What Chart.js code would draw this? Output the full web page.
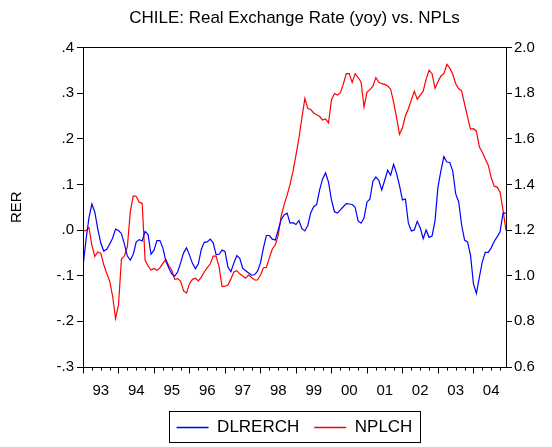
<!DOCTYPE html>
<html>
<head>
<meta charset="utf-8">
<script src="https://cdn.jsdelivr.net/npm/chart.js@4.4.1/dist/chart.umd.min.js"></script>
<style>
  html, body { margin: 0; padding: 0; background: #ffffff; }
  canvas { display: block; }
</style>
</head>
<body>
<canvas id="rerChart" width="552" height="447"></canvas>
<script>
// monthly, 1993M01 - 2004M12
const years = ["93", "94", "95", "96", "97", "98", "99", "00", "01", "02", "03", "04"];

const dlrerch = [
  -0.080, -0.022, 0.026, 0.057, 0.039, 0.002, -0.028, -0.046, -0.042, -0.031, -0.018, 0.002,
  -0.001, -0.008, -0.031, -0.057, -0.066, -0.053, -0.026, -0.021, -0.024, -0.003, -0.010, -0.053,
  -0.044, -0.023, -0.023, -0.039, -0.068, -0.083, -0.096, -0.101, -0.092, -0.072, -0.050, -0.039,
  -0.055, -0.073, -0.085, -0.074, -0.042, -0.027, -0.026, -0.020, -0.028, -0.054, -0.053, -0.044,
  -0.047, -0.081, -0.091, -0.072, -0.056, -0.062, -0.084, -0.089, -0.094, -0.099, -0.098, -0.090,
  -0.072, -0.039, -0.012, -0.012, -0.020, -0.022, 0.000, 0.023, 0.033, 0.037, 0.015, 0.016,
  0.012, 0.021, 0.003, -0.002, 0.010, 0.038, 0.051, 0.056, 0.088, 0.112, 0.125, 0.105,
  0.066, 0.040, 0.037, 0.044, 0.051, 0.058, 0.057, 0.056, 0.050, 0.020, 0.015, 0.026,
  0.061, 0.068, 0.107, 0.116, 0.109, 0.088, 0.109, 0.131, 0.120, 0.144, 0.124, 0.097,
  0.066, 0.068, 0.015, -0.002, 0.000, 0.019, 0.005, -0.019, 0.000, -0.016, -0.013, 0.020,
  0.094, 0.130, 0.161, 0.149, 0.148, 0.129, 0.079, 0.062, 0.011, -0.022, -0.026, -0.055,
  -0.118, -0.139, -0.103, -0.069, -0.049, -0.049, -0.039, -0.025, -0.015, -0.004, 0.037, 0.037
];

const nplch = [
  1.197, 1.197, 1.211, 1.134, 1.084, 1.104, 1.099, 1.049, 1.011, 0.977, 0.911, 0.812,
  0.872, 1.073, 1.086, 1.126, 1.283, 1.349, 1.347, 1.322, 1.317, 1.067, 1.043, 1.025,
  1.032, 1.024, 1.034, 1.054, 1.071, 1.043, 1.025, 0.984, 0.987, 0.976, 0.933, 0.924,
  0.965, 0.984, 0.989, 0.977, 0.994, 1.016, 1.035, 1.051, 1.086, 1.086, 1.040, 0.952,
  0.954, 0.959, 0.986, 1.016, 1.022, 1.008, 0.999, 0.989, 1.003, 0.992, 0.981, 0.981,
  1.003, 1.035, 1.036, 1.078, 1.117, 1.134, 1.178, 1.261, 1.311, 1.353, 1.400, 1.458,
  1.528, 1.602, 1.692, 1.776, 1.732, 1.728, 1.713, 1.705, 1.697, 1.682, 1.687, 1.669,
  1.771, 1.798, 1.791, 1.802, 1.839, 1.885, 1.885, 1.847, 1.885, 1.868, 1.849, 1.739,
  1.804, 1.815, 1.830, 1.868, 1.847, 1.841, 1.838, 1.831, 1.817, 1.760, 1.692, 1.620,
  1.648, 1.701, 1.731, 1.770, 1.808, 1.773, 1.791, 1.808, 1.861, 1.900, 1.885, 1.821,
  1.850, 1.875, 1.885, 1.926, 1.909, 1.882, 1.841, 1.819, 1.810, 1.751, 1.696, 1.642,
  1.644, 1.633, 1.563, 1.541, 1.511, 1.484, 1.430, 1.392, 1.388, 1.366, 1.287, 1.197
];

const rerTickValues = [-0.3, -0.2, -0.1, 0, 0.1, 0.2, 0.3, 0.4];
const rerTickLabels = ["-.3", "-.2", "-.1", ".0", ".1", ".2", ".3", ".4"];
const nplTickValues = [0.6, 0.8, 1.0, 1.2, 1.4, 1.6, 1.8, 2.0];
const nplTickLabels = ["0.6", "0.8", "1.0", "1.2", "1.4", "1.6", "1.8", "2.0"];

const fontFamily = "'Liberation Sans', Arial, sans-serif";
const black = "#000000";
const blue = "#0000ff";
const red = "#ff0000";

// frame around the plot, quarterly / yearly tick marks, box round the legend
const framePlugin = {
  id: "frame",
  afterDraw(chart) {
    const { ctx, chartArea, scales } = chart;
    ctx.save();
    ctx.strokeStyle = black;
    ctx.lineWidth = 1;
    ctx.strokeRect(Math.round(chartArea.left) + 0.5, Math.round(chartArea.top) + 0.5,
      Math.round(chartArea.right - chartArea.left), Math.round(chartArea.bottom - chartArea.top));

    const bottom = Math.round(chartArea.bottom) + 0.5;
    ctx.beginPath();
    for (let i = 0; i < dlrerch.length; i += 3) {
      const x = Math.round(scales.x.getPixelForValue(i)) + 0.5;
      const len = i % 12 === 0 ? 6 : 3;
      ctx.moveTo(x, bottom);
      ctx.lineTo(x, bottom + len);
    }
    ctx.stroke();

    const boxes = chart.legend.legendHitBoxes;
    if (boxes && boxes.length) {
      const first = boxes[0];
      const last = boxes[boxes.length - 1];
      const left = Math.round(first.left - 8) + 0.5;
      const top = Math.round(first.top - 8) + 0.5;
      const right = Math.round(last.left + last.width + 8) + 0.5;
      const h = Math.round(first.height + 14);
      ctx.strokeRect(left, top, right - left, h);
    }
    ctx.restore();
  }
};

new Chart(document.getElementById("rerChart"), {
  type: "line",
  data: {
    datasets: [
      {
        label: "DLRERCH",
        data: dlrerch.map((v, i) => ({ x: i, y: v })),
        yAxisID: "y",
        borderColor: blue,
        backgroundColor: blue,
        pointBorderColor: blue,
        pointBackgroundColor: blue,
        borderWidth: 1.2,
        pointRadius: 0,
        tension: 0
      },
      {
        label: "NPLCH",
        data: nplch.map((v, i) => ({ x: i, y: v })),
        yAxisID: "y1",
        borderColor: red,
        backgroundColor: red,
        pointBorderColor: red,
        pointBackgroundColor: red,
        borderWidth: 1.2,
        pointRadius: 0,
        tension: 0
      }
    ]
  },
  options: {
    responsive: false,
    animation: false,
    devicePixelRatio: 1,
    layout: {
      padding: { left: 0, right: 0, top: 0, bottom: 1 }
    },
    plugins: {
      title: {
        display: true,
        fullSize: false,
        text: "CHILE: Real Exchange Rate (yoy) vs. NPLs",
        color: black,
        font: { family: fontFamily, size: 17, weight: "normal" },
        padding: { top: 8, bottom: 19 }
      },
      legend: {
        display: true,
        fullSize: false,
        position: "bottom",
        labels: {
          color: black,
          font: { family: fontFamily, size: 17 },
          usePointStyle: true,
          pointStyle: "line",
          pointStyleWidth: 32,
          padding: 15,
          generateLabels(chart) {
            return chart.data.datasets.map((ds, i) => ({
              text: ds.label,
              datasetIndex: i,
              fillStyle: ds.borderColor,
              strokeStyle: ds.borderColor,
              lineWidth: 1.5,
              pointStyle: "line",
              fontColor: black,
              hidden: false
            }));
          }
        }
      },
      tooltip: { enabled: false }
    },
    scales: {
      x: {
        type: "linear",
        min: 0,
        max: dlrerch.length - 1,
        afterBuildTicks(scale) {
          scale.ticks = years.map((y, k) => ({ value: 6 + 12 * k }));
        },
        afterFit(scale) {
          scale.height = 37;
        },
        grid: { display: false },
        border: { display: false },
        ticks: {
          autoSkip: false,
          maxRotation: 0,
          padding: 7,
          color: black,
          font: { family: fontFamily, size: 15 },
          callback(value, index) {
            return years[index];
          }
        }
      },
      y: {
        type: "linear",
        position: "left",
        min: -0.3,
        max: 0.4,
        afterBuildTicks(scale) {
          scale.ticks = rerTickValues.map((v) => ({ value: v }));
        },
        afterFit(scale) {
          scale.width = 83;
        },
        title: {
          display: true,
          text: "RER",
          color: black,
          font: { family: fontFamily, size: 15 },
          padding: { top: 8, bottom: 0 }
        },
        grid: {
          drawOnChartArea: false,
          drawTicks: true,
          tickLength: 6,
          color: black
        },
        border: { display: true, color: black },
        ticks: {
          padding: 3,
          color: black,
          font: { family: fontFamily, size: 15 },
          callback(value, index) {
            return rerTickLabels[index];
          }
        }
      },
      y1: {
        type: "linear",
        position: "right",
        min: 0.6,
        max: 2.0,
        afterBuildTicks(scale) {
          scale.ticks = nplTickValues.map((v) => ({ value: v }));
        },
        afterFit(scale) {
          scale.width = 46;
        },
        grid: {
          drawOnChartArea: false,
          drawTicks: true,
          tickLength: 6,
          color: black
        },
        border: { display: true, color: black },
        ticks: {
          padding: 2,
          color: black,
          font: { family: fontFamily, size: 15 },
          callback(value, index) {
            return nplTickLabels[index];
          }
        }
      }
    }
  },
  plugins: [framePlugin]
});
</script>
</body>
</html>
